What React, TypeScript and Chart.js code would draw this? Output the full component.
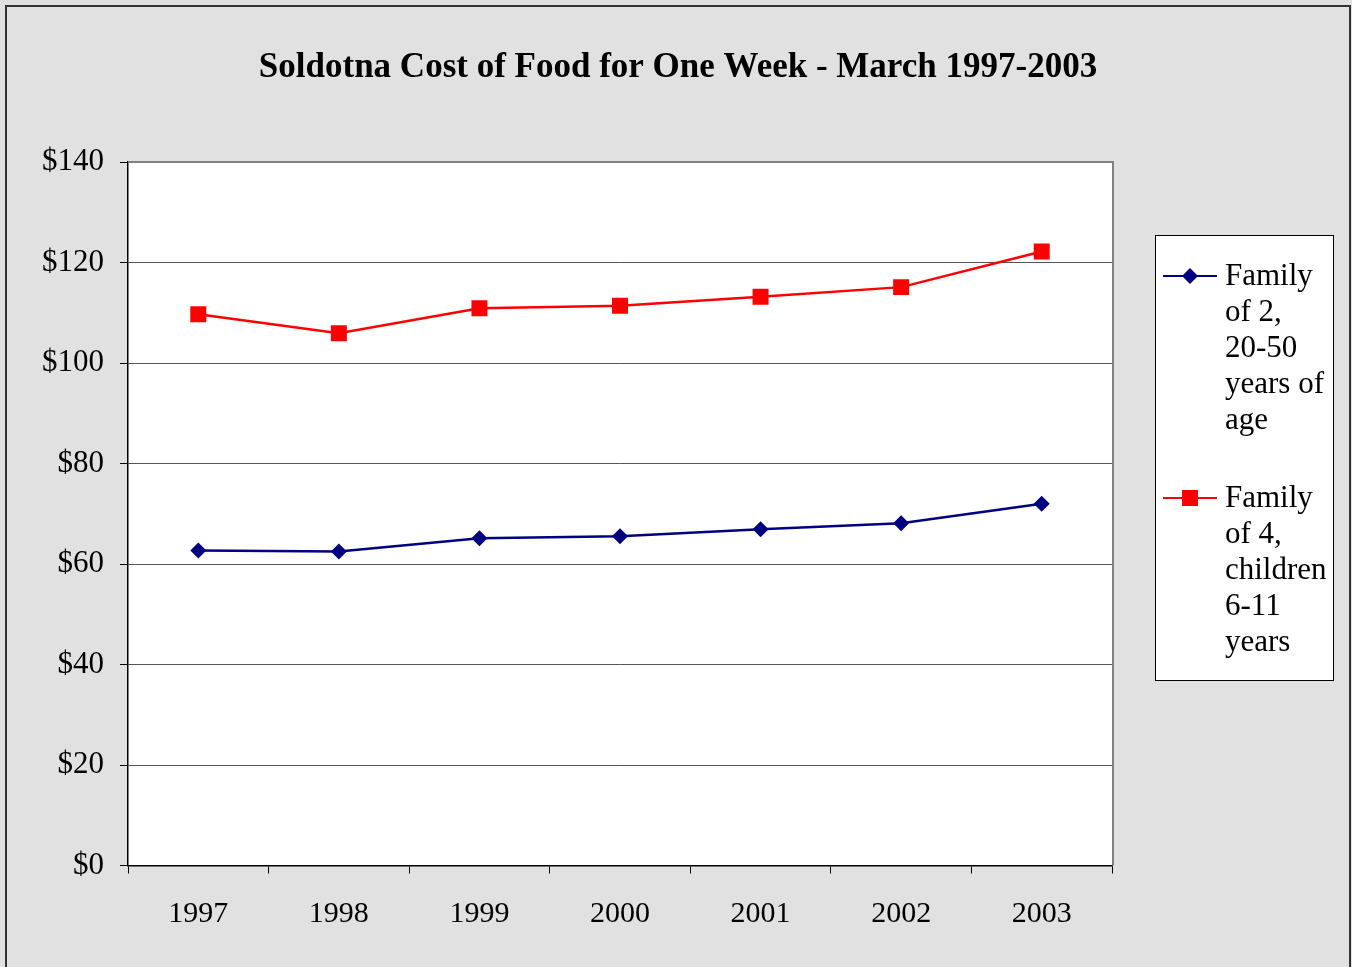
import React, { useEffect, useRef } from "react";
import { Chart, registerables } from "chart.js";

Chart.register(...registerables);

const titleText = "Soldotna Cost of Food for One Week - March 1997-2003";
const years = ["1997", "1998", "1999", "2000", "2001", "2002", "2003"];
const family2 = [62.7, 62.5, 65.1, 65.5, 66.9, 68.1, 72.0];
const family4 = [109.7, 105.9, 110.9, 111.4, 113.2, 115.1, 122.2];
const seriesNames = ["Family of 2, 20-50 years of age", "Family of 4, children 6-11 years"];
const legendLines = [
  ["Family", "of 2,", "20-50", "years of", "age"],
  ["Family", "of 4,", "children", "6-11", "years"],
];
const yMin = 0;
const yMax = 140;
const yStep = 20;

const SERIF = "'Liberation Serif', 'Times New Roman', serif";
const BG = "#e1e1e1";

const decorPlugin = {
  id: "decor",
  beforeDraw(chart: any) {
    const ctx = chart.ctx;
    ctx.save();
    ctx.fillStyle = BG;
    ctx.fillRect(0, 0, chart.width, chart.height);
    ctx.strokeStyle = "#333333";
    ctx.lineWidth = 2;
    ctx.strokeRect(6, 6, 1344, 1000);
    const a = chart.chartArea;
    ctx.fillStyle = "#ffffff";
    ctx.fillRect(a.left, a.top, a.right - a.left, a.bottom - a.top);
    // title
    ctx.fillStyle = "#000";
    ctx.font = `bold 35px ${SERIF}`;
    ctx.textAlign = "center";
    ctx.textBaseline = "middle";
    ctx.fillText(titleText, 678, 68);
    ctx.restore();
  },
  beforeDatasetsDraw(chart: any) {
    const ctx = chart.ctx;
    const a = chart.chartArea;
    ctx.save();
    ctx.strokeStyle = "#808080";
    ctx.lineWidth = 2;
    ctx.beginPath();
    ctx.moveTo(a.left, a.top);
    ctx.lineTo(a.right + 1, a.top);
    ctx.lineTo(a.right + 1, a.bottom);
    ctx.stroke();
    ctx.restore();
  },
  afterDraw(chart: any) {
    const ctx = chart.ctx;
    ctx.save();
    // legend box
    const bx = 1155.5, by = 235.5, bw = 178, bh = 445;
    ctx.fillStyle = "#ffffff";
    ctx.fillRect(bx, by, bw, bh);
    ctx.strokeStyle = "#000";
    ctx.lineWidth = 1;
    ctx.strokeRect(bx, by, bw, bh);
    const starts = [276, 498];
    chart.data.datasets.forEach((ds: any, i: number) => {
      const y = starts[i];
      ctx.strokeStyle = ds.borderColor;
      ctx.lineWidth = 2;
      ctx.beginPath();
      ctx.moveTo(1163, y);
      ctx.lineTo(1217, y);
      ctx.stroke();
      ctx.fillStyle = ds.pointBackgroundColor;
      if (ds.pointStyle === "rectRot") {
        ctx.beginPath();
        ctx.moveTo(1190 - 8, y);
        ctx.lineTo(1190, y - 8);
        ctx.lineTo(1190 + 8, y);
        ctx.lineTo(1190, y + 8);
        ctx.closePath();
        ctx.fill();
      } else {
        ctx.fillRect(1190 - 8, y - 8, 16, 16);
      }
      ctx.fillStyle = "#000";
      ctx.font = `31px ${SERIF}`;
      ctx.textAlign = "left";
      ctx.textBaseline = "middle";
      legendLines[i].forEach((line, j) => {
        ctx.fillText(line, 1225, y + 1 + j * 36);
      });
    });
    ctx.restore();
  },
};

export default function App() {
  const ref = useRef<HTMLCanvasElement | null>(null);
  useEffect(() => {
    if (!ref.current) return;
    const chart = new Chart(ref.current, {
      type: "line",
      data: {
        labels: years,
        datasets: [
          {
            label: seriesNames[0],
            data: family2,
            borderColor: "#000080",
            backgroundColor: "#000080",
            pointBackgroundColor: "#000080",
            pointBorderColor: "#000080",
            pointStyle: "rectRot",
            pointRadius: 8,
            pointBorderWidth: 0,
            borderWidth: 2.5,
            tension: 0,
          },
          {
            label: seriesNames[1],
            data: family4,
            borderColor: "#ff0000",
            backgroundColor: "#ff0000",
            pointBackgroundColor: "#ff0000",
            pointBorderColor: "#ff0000",
            pointStyle: "rect",
            pointRadius: 11.3,
            pointBorderWidth: 0,
            borderWidth: 2.5,
            tension: 0,
          },
        ],
      },
      options: {
        responsive: false,
        animation: false,
        devicePixelRatio: 1,
        layout: { padding: { top: 162, right: 240, left: 0, bottom: 0 } },
        plugins: {
          legend: { display: false },
          title: { display: false },
          tooltip: { enabled: false },
        },
        scales: {
          x: {
            type: "category",
            offset: true,
            grid: {
              offset: true,
              drawOnChartArea: false,
              drawTicks: true,
              tickLength: 8,
              color: "#000",
              tickColor: "#000",
            },
            border: { display: true, color: "#000", width: 1.5 },
            ticks: {
              color: "#000",
              padding: 23,
              maxRotation: 0,
              font: { family: SERIF, size: 30 },
            },
            afterFit(scale: any) {
              scale.height = 101.5;
            },
          },
          y: {
            min: yMin,
            max: yMax,
            ticks: {
              stepSize: yStep,
              color: "#000",
              padding: 16,
              font: { family: SERIF, size: 31 },
              callback: (v: any) => "$" + v,
            },
            grid: {
              color: (c: any) => (c.tick && c.tick.value === yMax ? "rgba(0,0,0,0)" : "#555555"),
              tickColor: "#000",
              tickLength: 8,
              lineWidth: 1,
            },
            border: { display: true, color: "#000", width: 1.5 },
            afterFit(scale: any) {
              scale.width = 128;
            },
          },
        },
      },
      plugins: [decorPlugin],
    });
    return () => chart.destroy();
  }, []);
  return (
    <div style={{ position: "fixed", left: 0, top: 0, width: 1352, height: 967 }}>
      <canvas ref={ref} width={1352} height={967} style={{ display: "block", width: 1352, height: 967 }} />
    </div>
  );
}
